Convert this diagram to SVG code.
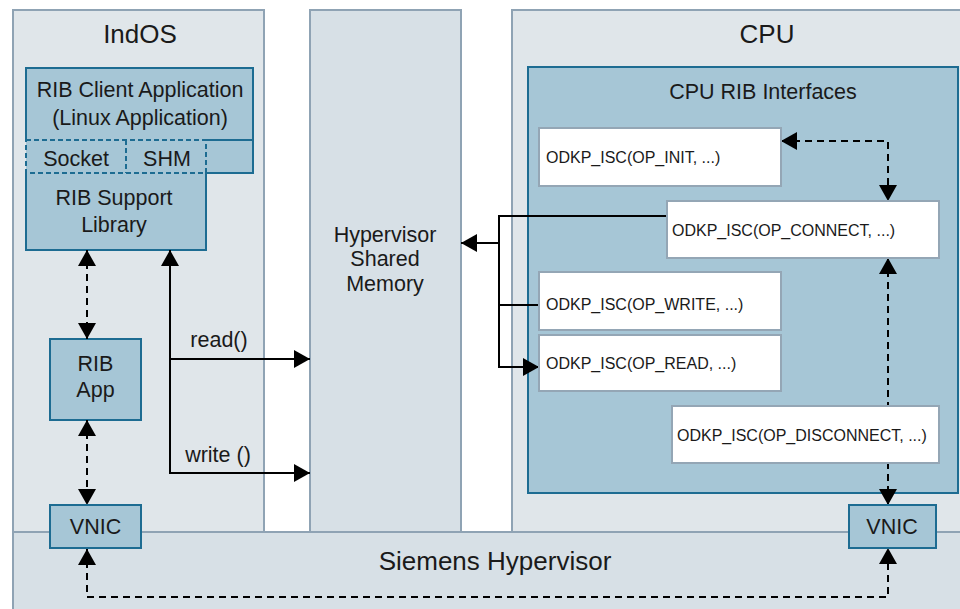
<svg xmlns="http://www.w3.org/2000/svg" width="960" height="609" viewBox="0 0 960 609">
<defs>
<marker id="ah" markerUnits="userSpaceOnUse" markerWidth="17" markerHeight="18" refX="16" refY="9" orient="auto-start-reverse" viewBox="0 0 17 18">
<path d="M0,0 L16,9 L0,18 Z" fill="#000"/>
</marker>
<style>
text{font-family:"Liberation Sans",Arial,sans-serif;fill:#1a1a1a}
.panel{fill:#e0e6ea;stroke:#8fa3b4;stroke-width:2}
.panel2{fill:#d7e0e6;stroke:#8fa3b4;stroke-width:2}
.blue{fill:#a6c6d6;stroke:#1d6c92;stroke-width:2}
.bfill{fill:#a6c6d6;stroke:none}
.bline{fill:none;stroke:#1d6c92;stroke-width:2}
.dsh{fill:none;stroke:#1d6c92;stroke-width:2;stroke-dasharray:5,3}
.white{fill:#fff;stroke:#94a6b5;stroke-width:2}
.big{font-size:26px;text-anchor:middle}
.mid{font-size:21.5px;text-anchor:middle}
.fn{font-size:16px}
.line{fill:none;stroke:#000;stroke-width:2}
.dline{fill:none;stroke:#000;stroke-width:2;stroke-dasharray:7,5}
</style>
</defs>
<rect width="960" height="609" fill="#fff"/>

<g id="indos">
<rect class="panel" x="13" y="10" width="251" height="522"/>
<text class="big" x="140" y="43">IndOS</text>
</g>
<g id="hsm">
<rect class="panel2" x="310" y="10" width="151" height="522"/>
<text class="mid" x="385" y="242">Hypervisor</text>
<text class="mid" x="385" y="266">Shared</text>
<text class="mid" x="385" y="291">Memory</text>
</g>
<g id="cpu">
<rect class="panel" x="512" y="10" width="460" height="522"/>
<text class="big" x="767" y="43">CPU</text>
</g>
<g id="siemens-hypervisor">
<rect class="panel2" x="13" y="532" width="960" height="90"/>
<text class="big" x="495" y="570">Siemens Hypervisor</text>
</g>

<g id="rib-client">
<rect class="bfill" x="26" y="68" width="227" height="105"/>
<path class="bline" d="M26,140 L26,68 L253,68 L253,173 L206,173 M206,140 L253,140"/>
<text class="mid" x="140" y="97">RIB Client Application</text>
<text class="mid" x="140" y="125">(Linux Application)</text>
</g>
<g id="rib-support">
<rect class="bfill" x="26" y="140" width="180" height="110"/>
<path class="bline" d="M26,173 L26,250 L206,250 L206,173"/>
<rect class="dsh" x="26" y="140" width="180" height="33"/>
<line class="dsh" x1="126" y1="140" x2="126" y2="173"/>
<text class="mid" x="76" y="166">Socket</text>
<text class="mid" x="167" y="166">SHM</text>
<text class="mid" x="114" y="205">RIB Support</text>
<text class="mid" x="114" y="232">Library</text>
</g>
<g id="rib-app">
<rect class="blue" x="50" y="339" width="91" height="81"/>
<text class="mid" x="95.5" y="371">RIB</text>
<text class="mid" x="95.5" y="397">App</text>
</g>

<g id="cpu-rib-interfaces">
<rect class="blue" x="528" y="67" width="430" height="426"/>
<text class="mid" x="763" y="99">CPU RIB Interfaces</text>
</g>

<g id="connectors">
<path class="line" d="M170,250 L170,473 L310,473" marker-start="url(#ah)" marker-end="url(#ah)"/>
<path class="line" d="M170,359 L310,359" marker-end="url(#ah)"/>
<path class="line" d="M667,216 L499,216 L499,367 L539,367" marker-end="url(#ah)"/>
<path class="line" d="M539,305 L499,305"/>
<path class="line" d="M499,243 L461,243" marker-end="url(#ah)"/>
<path class="dline" d="M87,250 L87,339" marker-start="url(#ah)" marker-end="url(#ah)"/>
<path class="dline" d="M87,420 L87,505" marker-start="url(#ah)" marker-end="url(#ah)"/>
<path class="dline" d="M87,549 L87,597 L888,597 L888,548" marker-start="url(#ah)" marker-end="url(#ah)"/>
<path class="dline" d="M781,141 L888,141 L888,201" marker-start="url(#ah)" marker-end="url(#ah)"/>
<path class="dline" d="M888,258 L888,505" marker-start="url(#ah)" marker-end="url(#ah)"/>
<text class="mid" x="219" y="347">read()</text>
<text class="mid" x="218" y="462">write ()</text>
</g>

<g id="op-init">
<rect class="white" x="539" y="128" width="242" height="58"/>
<text class="fn" x="546" y="163">ODKP_ISC(OP_INIT, ...)</text>
</g>
<g id="op-connect">
<rect class="white" x="667" y="201" width="272" height="57"/>
<text class="fn" x="672" y="236">ODKP_ISC(OP_CONNECT, ...)</text>
</g>
<g id="op-write">
<rect class="white" x="539" y="272" width="242" height="58"/>
<text class="fn" x="546" y="310">ODKP_ISC(OP_WRITE, ...)</text>
</g>
<g id="op-read">
<rect class="white" x="539" y="335" width="242" height="56"/>
<text class="fn" x="546" y="369">ODKP_ISC(OP_READ, ...)</text>
</g>
<g id="op-disconnect">
<rect class="white" x="672" y="406" width="267" height="57"/>
<text class="fn" x="677" y="441">ODKP_ISC(OP_DISCONNECT, ...)</text>
</g>

<g id="vnic-left">
<rect class="blue" x="50" y="505" width="91" height="43"/>
<text class="mid" x="95.5" y="534">VNIC</text>
</g>
<g id="vnic-right">
<rect class="blue" x="849" y="505" width="87" height="43"/>
<text class="mid" x="892" y="534">VNIC</text>
</g>
</svg>
